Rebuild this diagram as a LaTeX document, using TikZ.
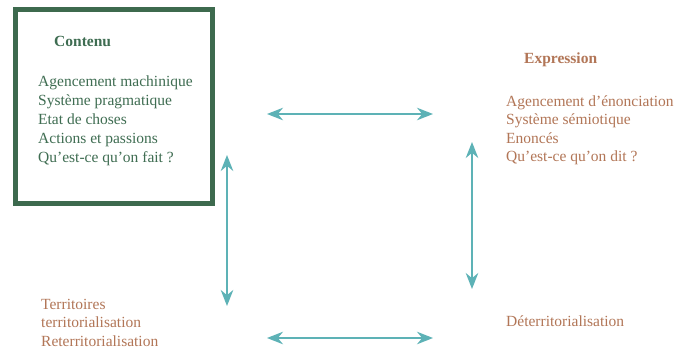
\documentclass[tikz,border=0pt]{standalone}
\usepackage{fontspec}
\setmainfont{Liberation Serif}
\usetikzlibrary{arrows.meta}
\definecolor{boxgreen}{HTML}{3D6A4E}
\definecolor{textgreen}{HTML}{3F6D52}
\definecolor{textbrown}{HTML}{B27657}
\definecolor{linkteal}{HTML}{5DB2B6}
\tikzset{
  greenline/.style={anchor=base west, inner sep=0pt, text=textgreen, font=\fontsize{15.5}{19}\selectfont},
  brownline/.style={anchor=base west, inner sep=0pt, text=textbrown, font=\fontsize{15.5}{19}\selectfont},
  heading/.style={font=\fontsize{15.5}{19}\selectfont\bfseries},
  link/.style={draw=linkteal, line width=1.6pt, {Stealth[length=16pt,width=12.5pt]}-{Stealth[length=16pt,width=12.5pt]}}
}
\begin{document}
\begin{tikzpicture}[x=1pt,y=-1pt]
\useasboundingbox (0,0) rectangle (675,349);
\fill[white] (0,0) rectangle (675,349);

% content frame
\draw[boxgreen, line width=5pt] (15.5,9.5) rectangle (212.5,203.5);

% content block
\node[greenline, heading] (contenu) at (54,46.5) {Contenu};
\node[greenline] (c1) at (38,86.5) {Agencement machinique};
\node[greenline] (c2) at (38,105.5) {Système pragmatique};
\node[greenline] (c3) at (38,124.5) {Etat de choses};
\node[greenline] (c4) at (38,143.5) {Actions et passions};
\node[greenline] (c5) at (38,162.5) {Qu’est-ce qu’on fait ?};

% expression block
\node[brownline, heading] (expression) at (524,63) {Expression};
\node[brownline] (e1) at (506,106) {Agencement d’énonciation};
\node[brownline] (e2) at (506,124.5) {Système sémiotique};
\node[brownline] (e3) at (506,143) {Enoncés};
\node[brownline] (e4) at (506,161.5) {Qu’est-ce qu’on dit ?};

% territory block
\node[brownline] (t1) at (41,309) {Territoires};
\node[brownline] (t2) at (41,327.5) {territorialisation};
\node[brownline] (t3) at (41,346) {Reterritorialisation};

\node[brownline] (d1) at (506,326) {Déterritorialisation};

% double arrows
\coordinate (topL) at (267,114);
\coordinate (topR) at (433,114);
\coordinate (botL) at (267,338);
\coordinate (botR) at (433,338);
\coordinate (leftT) at (227,155);
\coordinate (leftB) at (227,306);
\coordinate (rightT) at (472,142);
\coordinate (rightB) at (472,289);

\draw[link] (topL) -- (topR);
\draw[link] (botL) -- (botR);
\draw[link] (leftT) -- (leftB);
\draw[link] (rightT) -- (rightB);
\end{tikzpicture}
\end{document}
